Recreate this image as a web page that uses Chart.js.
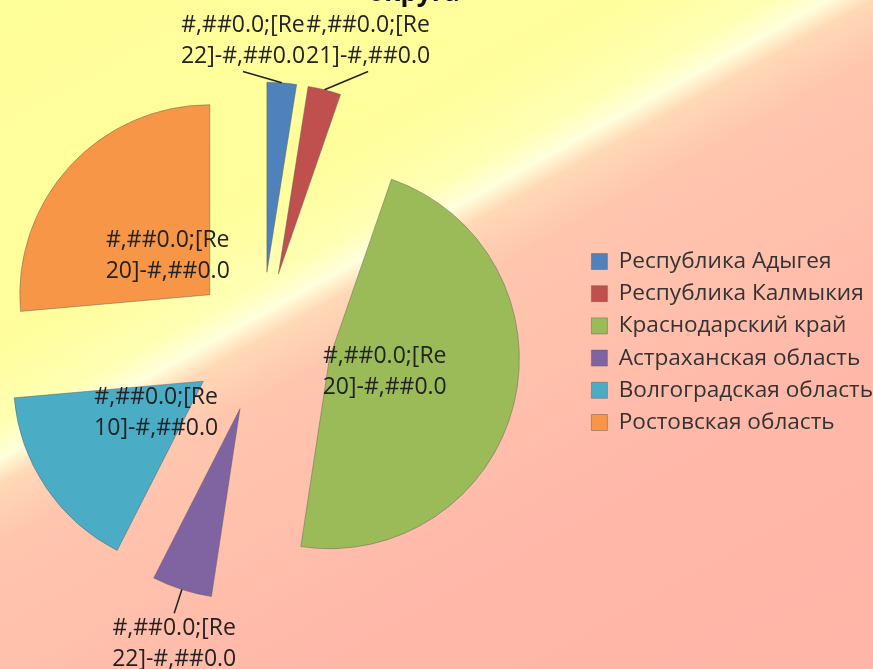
<!DOCTYPE html>
<html>
<head>
<meta charset="utf-8">
<script src="https://cdn.jsdelivr.net/npm/chart.js@4.4.0/dist/chart.umd.min.js"></script>
<style>
  html, body { margin: 0; padding: 0; }
  body {
    width: 873px; height: 669px; overflow: hidden;
    background: linear-gradient(151deg, #ffff99 0%, #fffe9c 30%, #ffffb4 37%, #ffffdc 39.8%, #ffd9b6 42%, #ffc6ae 47%, #ffb9a9 70%, #ffb4a6 100%);
  }
  #wrap { position: relative; width: 873px; height: 669px; overflow: hidden; }
  /* canvas is a bit wider than the page and slid left, so the pie sits left of centre */
  #myChart { position: absolute; left: -59px; top: 0; }
</style>
</head>
<body>
<div id="wrap"><canvas id="myChart" width="942" height="669"></canvas></div>
<script>

const regions = ['Республика Адыгея', 'Республика Калмыкия', 'Краснодарский край', 'Астраханская область', 'Волгоградская область', 'Ростовская область'];
const shares = [2.5, 2.8, 47.1, 5.1, 16.1, 26.4];

// data labels as the source shows them (a broken number format), two lines each
const labelLine1 = ['#,##0.0;[Re', '#,##0.0;[Re', '#,##0.0;[Re', '#,##0.0;[Re', '#,##0.0;[Re', '#,##0.0;[Re'];
const labelLine2 = ['22]-#,##0.0', '21]-#,##0.0', '20]-#,##0.0', '22]-#,##0.0', '10]-#,##0.0', '20]-#,##0.0'];

const sliceColors = ['#4f81bd', '#c0504d', '#9bbb59', '#8064a2', '#4bacc6', '#f79646'];
const titleText = 'округа';

const EXPLODE = 70;
const LABEL_FONT = '23px "Open Sans"';
const LINE_H = 31;

function sliceShift(arc){
  const mid = (arc.startAngle + arc.endAngle) / 2;
  return {mid: mid, dx: Math.cos(mid) * EXPLODE, dy: Math.sin(mid) * EXPLODE};
}

// every slice pulled out of the centre along its own mid angle
const explodePlugin = {
  id: 'explode',
  beforeDatasetDraw(chart, args){
    const ctx = chart.ctx;
    args.meta.data.forEach(arc => {
      const s = sliceShift(arc);
      ctx.save();
      ctx.translate(s.dx, s.dy);
      arc.draw(ctx, chart.chartArea);
      ctx.restore();
    });
    return false;
  }
};

function drawLines(ctx, lines, x, y){
  const top = y - (lines.length - 1) * LINE_H / 2;
  lines.forEach((t, k) => ctx.fillText(t, x, top + k * LINE_H));
}

const labelPlugin = {
  id: 'sliceLabels',
  afterDatasetsDraw(chart){
    const ctx = chart.ctx;
    const arcs = chart.getDatasetMeta(0).data;
    const total = shares.reduce((a, b) => a + b, 0);
    ctx.save();
    ctx.font = LABEL_FONT;
    ctx.fillStyle = '#222';
    ctx.strokeStyle = '#222';
    ctx.lineWidth = 1.5;
    ctx.textAlign = 'center';
    ctx.textBaseline = 'middle';

    const outside = [];
    arcs.forEach((arc, i) => {
      const s = sliceShift(arc);
      const cx = arc.x + s.dx, cy = arc.y + s.dy;
      const ux = Math.cos(s.mid), uy = Math.sin(s.mid);
      const R = arc.outerRadius;
      const lines = [labelLine1[i], labelLine2[i]];
      if (shares[i] / total > 0.08) {
        drawLines(ctx, lines, cx + ux * R * 0.3, cy + uy * R * 0.3);
        return;
      }
      const w = Math.max(...lines.map(t => ctx.measureText(t).width));
      const h = LINE_H * lines.length;
      const up = uy < 0;
      const gap = up ? 15 : 25;
      const ax = cx + ux * (R + gap), ay = cy + uy * (R + gap);
      outside.push({lines, w, h, up, edge: {x: cx + ux * R, y: cy + uy * R}, x: ax, y: up ? ay - h / 2 : ay + h / 2});
    });

    // spread labels that sit on the same side and overlap
    [true, false].forEach(side => {
      const group = outside.filter(o => o.up === side).sort((a, b) => a.x - b.x);
      for (let k = 1; k < group.length; k++) {
        const a = group[k - 1], b = group[k];
        const need = (a.w + b.w) / 2 + 1;
        if (b.x - a.x < need && Math.abs(a.y - b.y) < a.h) {
          const m = (a.x + b.x) / 2;
          a.x = m - need / 2; b.x = m + need / 2;
          const yy = (a.y + b.y) / 2;
          a.y = yy; b.y = yy;
        }
      }
    });

    outside.forEach(o => {
      const endY = o.up ? o.y + o.h / 2 : o.y - o.h / 2;
      ctx.beginPath();
      ctx.moveTo(o.edge.x, o.edge.y);
      ctx.lineTo(o.x, endY);
      ctx.stroke();
      drawLines(ctx, o.lines, o.x, o.y);
    });
    ctx.restore();
  }
};

// chart title, mostly cut off by the top edge in the source
const titlePlugin = {
  id: 'cutTitle',
  afterDraw(chart, args, opts){
    const ctx = chart.ctx;
    ctx.save();
    ctx.font = 'bold 26px "Open Sans"';
    ctx.fillStyle = '#111';
    ctx.textAlign = 'center';
    ctx.textBaseline = 'alphabetic';
    ctx.fillText(titleText, opts.x, opts.y);
    ctx.restore();
  }
};

const chart = new Chart(document.getElementById('myChart'), {
  type: 'pie',
  data: {
    labels: regions,
    datasets: [{
      data: shares,
      backgroundColor: sliceColors,
      borderColor: 'rgba(90,90,90,0.45)',
      borderWidth: 1,
      radius: 190
    }]
  },
  options: {
    responsive: false,
    animation: false,
    devicePixelRatio: 1,
    layout: { padding: { left: 0, top: 15, right: 0, bottom: 0 } },
    plugins: {
      legend: {
        position: 'right',
        labels: {
          boxWidth: 16,
          boxHeight: 16,
          padding: 9.6,
          color: '#333',
          font: { family: 'Open Sans', size: 22.6 }
        }
      },
      tooltip: { enabled: false },
      cutTitle: { x: 473, y: 1 }
    }
  },
  plugins: [explodePlugin, labelPlugin, titlePlugin]
});
</script>
</body>
</html>
